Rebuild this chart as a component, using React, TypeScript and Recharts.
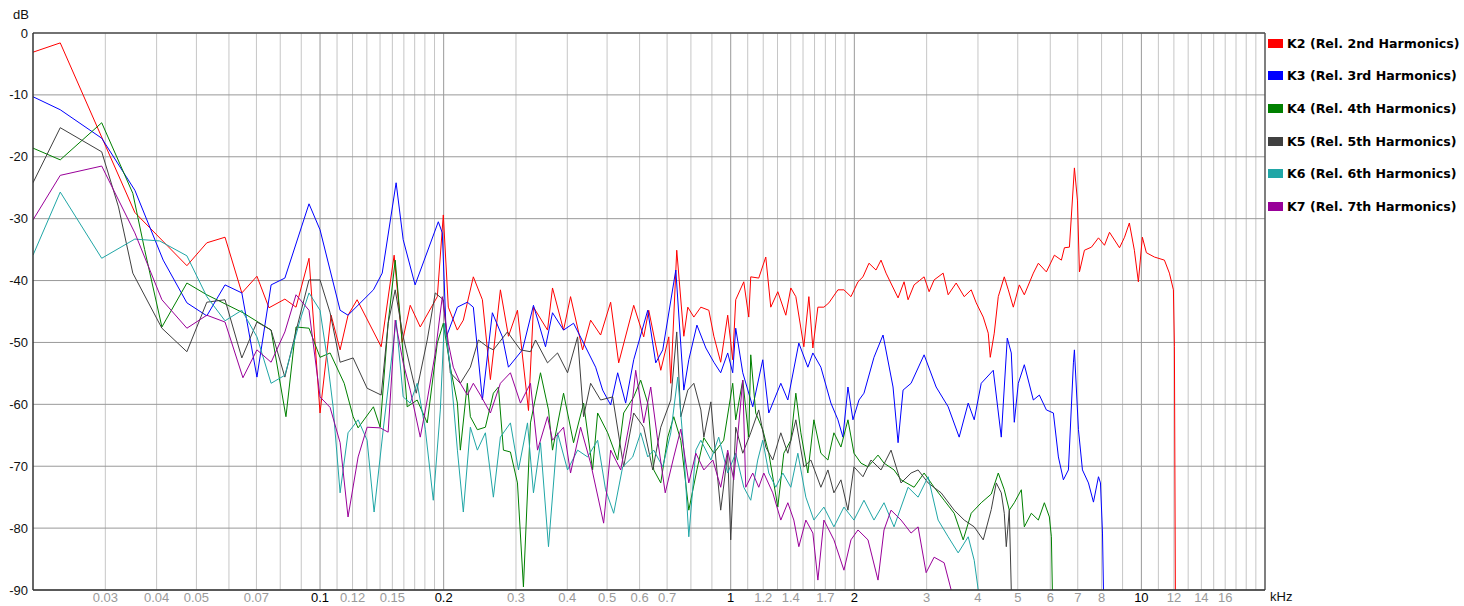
import { LineChart, Line, XAxis, YAxis, CartesianGrid, Legend, ReferenceLine } from "recharts";

// frequency in kHz, level in dB
const K2: [number, number][] = [
  [0.02, -3.1], [0.0233, -1.6], [0.0354, -29], [0.0474, -37.6], [0.053, -33.9], [0.0587, -33],
  [0.0645, -42], [0.0702, -39.3], [0.0751, -44.4], [0.0821, -43], [0.0874, -44.3], [0.094, -36.4],
  [0.1, -61.4], [0.1064, -45.6], [0.1119, -51.2], [0.117, -45.6], [0.1231, -43.1], [0.1409, -50.7],
  [0.1515, -35.9], [0.1585, -50], [0.1658, -44], [0.1754, -47.5], [0.193, -42.6], [0.1996, -29.4],
  [0.2053, -44.3], [0.2159, -48], [0.2233, -46.4], [0.2362, -39.4], [0.2485, -43.1], [0.2599, -56],
  [0.2749, -41.5], [0.2876, -49], [0.3025, -44.8], [0.3218, -61], [0.3309, -44.3], [0.358, -48],
  [0.3682, -41.2], [0.3917, -48], [0.4074, -42.6], [0.4358, -51.2], [0.4559, -46.4], [0.4822, -48.8],
  [0.5101, -43.5], [0.5336, -53.3], [0.5805, -44], [0.614, -49.1], [0.6316, -44.8], [0.6756, -54.5],
  [0.7066, -49.1], [0.7146, -56.6], [0.7389, -35.1], [0.7688, -49], [0.7862, -44.3], [0.8132, -45.9],
  [0.8458, -44.3], [0.8846, -44.8], [0.9099, -49], [0.9454, -53.2], [0.9833, -45.6], [1.0113, -52.8],
  [1.0285, -43.1], [1.076, -40.2], [1.1065, -45.9], [1.1189, -39.4], [1.1702, -39.6], [1.2172, -36.2],
  [1.2519, -44.3], [1.3022, -41.8], [1.3621, -45.6], [1.4008, -41.2], [1.4407, -42.6], [1.5069, -50.7],
  [1.5499, -42.6], [1.5851, -50.9], [1.6303, -44.3], [1.6862, -44.3], [1.7343, -43.6], [1.8243, -41.5],
  [1.8868, -41.5], [1.9625, -42.6], [2.0412, -40.2], [2.0993, -39.4], [2.1712, -37.2], [2.2583, -38.3],
  [2.3228, -36.7], [2.3891, -38.8], [2.5558, -42.8], [2.6432, -40.2], [2.7033, -43.1], [2.7959, -40.7],
  [2.9576, -39.4], [3.0418, -41.8], [3.1284, -39.9], [3.2908, -38.8], [3.3846, -42.3], [3.5403, -40.4],
  [3.703, -42.6], [3.8515, -41.5], [3.9612, -43.6], [4.1201, -45.9], [4.2375, -48.5], [4.2856, -52.4],
  [4.3827, -48.5], [4.4826, -42.6], [4.636, -39.4], [4.7418, -41.5], [4.8766, -44.3], [5.0436, -40.7],
  [5.1875, -42.3], [5.4565, -38.8], [5.6122, -37.2], [5.8703, -38.6], [6.14, -35.9], [6.3864, -36.7],
  [6.495, -34.7], [6.68, -34.6], [6.87, -21.8], [6.987, -27], [7.066, -38.6], [7.2673, -35.1],
  [7.5589, -34.6], [7.8621, -33.1], [8.1318, -34.3], [8.3636, -32.2], [8.8469, -34.7], [9.0989, -33],
  [9.3483, -30.7], [9.6145, -35.1], [9.833, -40.2], [10.056, -33], [10.285, -35.5], [10.758, -36.2],
  [11.379, -36.7], [11.701, -38.8], [11.968, -41.5], [12.035, -50.7], [12.1, -90],
];

const K3: [number, number][] = [
  [0.02, -10.3], [0.0233, -12.4], [0.0294, -17], [0.0354, -25.4], [0.0415, -36.7], [0.0474, -43.6],
  [0.053, -45.7], [0.0587, -40.7], [0.0645, -42], [0.0702, -55.6], [0.076, -40.7], [0.0821, -39.6],
  [0.094, -27.6], [0.1, -31.8], [0.1119, -44.8], [0.117, -45.6], [0.1349, -41.5], [0.1417, -38.8],
  [0.1532, -24.2], [0.1594, -33.4], [0.1704, -40.7], [0.1941, -30.5], [0.1985, -32.3], [0.203, -49.1],
  [0.216, -44.3], [0.2284, -43.5], [0.2362, -44.3], [0.2485, -59.3], [0.2628, -45.2], [0.278, -49.1],
  [0.2876, -54], [0.3111, -51.2], [0.3309, -44], [0.354, -50.7], [0.3682, -45.2], [0.3917, -48],
  [0.4143, -46.9], [0.4383, -50.1], [0.4689, -54], [0.4877, -57.7], [0.5101, -60.1], [0.5306, -54.9],
  [0.5549, -59.8], [0.5805, -52.8], [0.628, -44.8], [0.6568, -53.3], [0.6832, -51.2], [0.735, -38.3],
  [0.7688, -57.7], [0.7906, -52.8], [0.8274, -47.2], [0.8699, -50.9], [0.9099, -53.2], [0.9454, -54.9],
  [0.9833, -51.7], [1.0113, -54.9], [1.0285, -47.7], [1.07, -54.9], [1.1315, -60.4], [1.1968, -52.8],
  [1.238, -61.4], [1.3243, -56.6], [1.3774, -59.3], [1.4652, -50.1], [1.5412, -54], [1.5851, -51.7],
  [1.658, -54], [1.7539, -59.8], [1.8243, -62.5], [1.8762, -65.3], [1.9297, -57.2], [1.9847, -62.5],
  [2.0527, -59.3], [2.1112, -58.2], [2.2331, -52.4], [2.349, -48.8], [2.4847, -57.2], [2.5558, -66.2],
  [2.6283, -57.7], [2.7492, -56.6], [2.9576, -52], [3.1639, -57.2], [3.3846, -60.4], [3.6004, -65.3],
  [3.787, -59.8], [3.917, -62.5], [4.0741, -56.6], [4.3582, -54.5], [4.5587, -65.3], [4.7147, -49.3],
  [4.8222, -51.7], [4.904, -62.9], [5.0156, -56.6], [5.1875, -53.6], [5.4565, -59.3], [5.6439, -58.5],
  [5.8703, -60.9], [6.1056, -61.4], [6.2798, -68.5], [6.4585, -72.2], [6.6425, -70.6], [6.8316, -53.3],
  [6.87, -51.2], [7.0265, -64.1], [7.186, -70.6], [7.433, -72.7], [7.6441, -75.8], [7.8621, -71.7],
  [7.951, -72.7], [8.0408, -80.8], [8.0858, -90],
];

const K4: [number, number][] = [
  [0.02, -18.6], [0.0233, -20.5], [0.0294, -14.5], [0.035, -25.9], [0.0374, -35], [0.0412, -47.5],
  [0.0474, -40.4], [0.053, -42.3], [0.0649, -45.2], [0.076, -48], [0.0826, -62], [0.0874, -47.5],
  [0.094, -47.7], [0.1, -52.4], [0.1058, -51.7], [0.1145, -56.6], [0.1204, -62], [0.1238, -63.8],
  [0.1349, -60.4], [0.1401, -63.7], [0.1465, -46.9], [0.1524, -36.7], [0.1567, -45.9], [0.163, -60.4],
  [0.1724, -59.3], [0.1824, -63], [0.193, -50.1], [0.1996, -46.9], [0.2076, -54], [0.216, -59.8],
  [0.2196, -67.4], [0.2284, -56.6], [0.2323, -62], [0.2416, -64.1], [0.2527, -63.7], [0.2643, -58.2],
  [0.2719, -57.2], [0.2796, -67.4], [0.2908, -67.7], [0.3025, -72.7], [0.3128, -89.5], [0.3254, -63],
  [0.3442, -54.9], [0.36, -60.9], [0.3682, -67.4], [0.3917, -58.2], [0.4143, -66.2], [0.4383, -59.8],
  [0.461, -70.6], [0.4742, -61.4], [0.5016, -64.6], [0.5306, -69], [0.5487, -61.4], [0.5805, -58.8],
  [0.6037, -56.1], [0.628, -59.8], [0.6495, -70.6], [0.6756, -72.7], [0.7026, -65.3], [0.7267, -62],
  [0.7559, -65.8], [0.7906, -77.1], [0.8274, -70.6], [0.8602, -65.4], [0.9099, -67.9], [0.9614, -65.8],
  [1.0113, -56.6], [1.0285, -62.5], [1.07, -56.1], [1.1065, -65.3], [1.1189, -52], [1.1506, -61.4],
  [1.1968, -64.1], [1.238, -67.9], [1.3022, -76.6], [1.3468, -67.9], [1.4008, -65.8], [1.4407, -58.2],
  [1.4818, -64.6], [1.5412, -71.1], [1.5941, -62.5], [1.658, -67.9], [1.7246, -69], [1.7837, -64.6],
  [1.8553, -66.9], [1.9297, -62.5], [1.9958, -67.9], [2.0759, -69.5], [2.1591, -70.1], [2.2839, -68.2],
  [2.3623, -69.5], [2.4988, -70.6], [2.599, -72.2], [2.7959, -73.4], [2.9576, -71.1], [3.1284, -73.4],
  [3.3094, -75.5], [3.5006, -77.6], [3.6822, -81.9], [3.8515, -77.6], [4.0741, -75.9], [4.3096, -74.5],
  [4.4826, -71.1], [4.636, -73.8], [4.7684, -77.1], [4.904, -75.9], [5.1009, -73.8], [5.1875, -79.8],
  [5.3957, -77.6], [5.6122, -78.7], [5.8046, -75.9], [5.97, -78.2], [6.0374, -81.4], [6.071, -90],
];

const K5: [number, number][] = [
  [0.02, -24.2], [0.0233, -15.3], [0.0294, -19.2], [0.0323, -28.1], [0.035, -38.8], [0.0412, -47.7],
  [0.0474, -51.5], [0.053, -43.5], [0.0587, -43.1], [0.0645, -52.5], [0.0702, -46.7], [0.076, -48],
  [0.0821, -55.6], [0.0879, -47.5], [0.094, -39.9], [0.1, -39.9], [0.1058, -45.2], [0.1119, -53.2],
  [0.1204, -52.5], [0.1302, -57.4], [0.1409, -58.5], [0.1465, -46.9], [0.1524, -41.5], [0.1594, -49.1],
  [0.1715, -58.2], [0.1824, -49.6], [0.1908, -42], [0.1996, -43.1], [0.2076, -54.9], [0.2196, -56.6],
  [0.2323, -54], [0.243, -49.6], [0.2555, -50.7], [0.2643, -51.2], [0.2859, -48.3], [0.3076, -51.2],
  [0.3254, -51.5], [0.3347, -49.6], [0.358, -53.3], [0.3787, -51.7], [0.4006, -54.9], [0.4238, -49.1],
  [0.4383, -62], [0.4559, -56.6], [0.4822, -59.3], [0.5159, -58.8], [0.5487, -70.1], [0.5805, -61.4],
  [0.614, -63.7], [0.6459, -70.6], [0.6756, -63.7], [0.7146, -59.3], [0.7389, -48.3], [0.7559, -62],
  [0.7862, -57.7], [0.8132, -56.6], [0.8458, -60.9], [0.8602, -65.3], [0.8947, -59.6], [0.9206, -69],
  [0.9454, -77.1], [0.9833, -67.9], [1.0, -81.9], [1.0285, -63.7], [1.07, -67.9], [1.1189, -64.6],
  [1.1702, -60.9], [1.2172, -66.9], [1.266, -69], [1.3243, -64.6], [1.3774, -67.9], [1.4407, -62.5],
  [1.5069, -70.1], [1.5674, -69], [1.658, -73.4], [1.7246, -70.6], [1.7837, -74.3], [1.8553, -72.2],
  [1.9297, -77.1], [1.9958, -70.1], [2.0993, -71.7], [2.1958, -69], [2.3228, -70.6], [2.457, -67.4],
  [2.599, -72.7], [2.7492, -71.1], [2.8597, -70.6], [3.0247, -72.7], [3.2541, -74.3], [3.5006, -77.1],
  [3.703, -78.7], [3.917, -79.8], [4.1201, -81.9], [4.3096, -77], [4.4324, -72.7], [4.5587, -74.3],
  [4.636, -77.6], [4.6887, -83], [4.7684, -77.1], [4.8222, -90],
];

const K6: [number, number][] = [
  [0.02, -35.9], [0.0233, -25.7], [0.0294, -36.4], [0.0354, -33.3], [0.0407, -33.6], [0.0474, -36],
  [0.053, -42.6], [0.0587, -46.5], [0.0645, -44.8], [0.0702, -49.1], [0.076, -56.6], [0.0821, -55.3],
  [0.0894, -46.4], [0.094, -42], [0.1, -44.8], [0.104, -52.4], [0.1076, -60.4], [0.1119, -74.3],
  [0.117, -64.6], [0.1238, -62.5], [0.1302, -65.8], [0.1354, -77.4], [0.1425, -64.1], [0.1532, -46.4],
  [0.1594, -58.8], [0.1658, -59.8], [0.1724, -56.6], [0.1805, -64.1], [0.1887, -75.5], [0.1963, -60.9],
  [0.2007, -46.9], [0.2076, -54], [0.216, -67.4], [0.2233, -77.4], [0.2323, -63.7], [0.2416, -67.4],
  [0.2527, -64.6], [0.2643, -75], [0.2749, -65.3], [0.2908, -63], [0.3042, -70.6], [0.32, -63],
  [0.3309, -74.3], [0.3442, -66.2], [0.36, -83], [0.3787, -64.6], [0.4006, -70.6], [0.4238, -67.4],
  [0.4482, -68.5], [0.4742, -65.8], [0.4958, -73.8], [0.5188, -77.6], [0.5457, -70.1], [0.5772, -68.5],
  [0.6037, -64.6], [0.628, -68.5], [0.6495, -67.4], [0.6832, -70.1], [0.7146, -64.6], [0.7431, -55.6],
  [0.7688, -67.4], [0.7906, -81.4], [0.8224, -67.4], [0.8458, -65.8], [0.8947, -69], [0.9349, -65.3],
  [0.9833, -71.1], [1.0285, -67.9], [1.076, -73.4], [1.1189, -75.5], [1.1636, -69], [1.1968, -65.8],
  [1.238, -71.1], [1.2876, -73.4], [1.3393, -71.1], [1.4008, -73.4], [1.4571, -67.9], [1.524, -75],
  [1.5941, -78.7], [1.6862, -76.6], [1.7837, -79.8], [1.8868, -76.6], [1.9958, -78.7], [2.1112, -75.5],
  [2.2331, -78.7], [2.3623, -75.9], [2.4988, -79.8], [2.7033, -73.4], [2.8597, -75], [3.0247, -71.7],
  [3.1994, -78.7], [3.3846, -81.4], [3.5803, -84], [3.787, -81.4], [3.917, -85.2], [4.0064, -90],
];

const K7: [number, number][] = [
  [0.02, -30.2], [0.0233, -23], [0.0294, -21.5], [0.0354, -32.3], [0.0412, -43.1], [0.0474, -47.7],
  [0.053, -45.6], [0.0587, -46.7], [0.0649, -55.7], [0.0702, -51.2], [0.076, -53.2], [0.0821, -48.3],
  [0.0874, -42.3], [0.094, -44.8], [0.1, -58.8], [0.1058, -60.5], [0.1119, -66.2], [0.117, -78.2],
  [0.1238, -68.5], [0.1302, -63.7], [0.1401, -63.8], [0.1465, -64.5], [0.1524, -46.4], [0.1594, -53.3],
  [0.1658, -57.7], [0.1754, -65.3], [0.1824, -59.3], [0.1908, -51.7], [0.1985, -42.6], [0.2053, -50.1],
  [0.2111, -54], [0.2196, -56.6], [0.2284, -58.5], [0.2362, -56.6], [0.2457, -58.5], [0.2599, -61.4],
  [0.2749, -56.6], [0.2908, -54.9], [0.3076, -59.8], [0.3254, -56.6], [0.3385, -67.4], [0.358, -62],
  [0.3682, -65.8], [0.3917, -63.7], [0.4074, -71.1], [0.431, -63.7], [0.4559, -69.5], [0.4904, -79.2],
  [0.5101, -67.4], [0.5396, -70.6], [0.5708, -62], [0.587, -54.5], [0.614, -63], [0.6386, -57.2],
  [0.6624, -65.3], [0.6927, -74.3], [0.7267, -68.5], [0.7559, -64], [0.7906, -72.7], [0.8224, -67.9],
  [0.8602, -70.6], [0.9048, -69], [0.9454, -73.4], [0.9833, -67.4], [1.017, -72.2], [1.07, -56.1],
  [1.088, -73.4], [1.1315, -71.1], [1.1702, -73.4], [1.2038, -71.1], [1.266, -74.3], [1.3243, -78.7],
  [1.3774, -75.9], [1.4245, -78.7], [1.4652, -83], [1.524, -78.7], [1.5851, -80.8], [1.6303, -88.4],
  [1.6862, -78.7], [1.7837, -81.9], [1.8868, -86.8], [1.9625, -81.9], [2.0412, -80.3], [2.1591, -81.9],
  [2.2839, -88.4], [2.3623, -80.3], [2.457, -77.1], [2.599, -78.7], [2.7492, -80.8], [2.8597, -79.8],
  [2.9914, -87.2], [3.1284, -84.7], [3.3094, -85.6], [3.4421, -90],
];

const SERIES = [
  { key: "K2", name: "K2 (Rel. 2nd Harmonics)", color: "#ff0000", data: K2 },
  { key: "K3", name: "K3 (Rel. 3rd Harmonics)", color: "#0000ff", data: K3 },
  { key: "K4", name: "K4 (Rel. 4th Harmonics)", color: "#008000", data: K4 },
  { key: "K5", name: "K5 (Rel. 5th Harmonics)", color: "#404040", data: K5 },
  { key: "K6", name: "K6 (Rel. 6th Harmonics)", color: "#20a6a6", data: K6 },
  { key: "K7", name: "K7 (Rel. 7th Harmonics)", color: "#990099", data: K7 },
];

const X_TICKS = [0.03, 0.04, 0.05, 0.07, 0.1, 0.12, 0.15, 0.2, 0.3, 0.4, 0.5, 0.6, 0.7, 1, 1.2, 1.4, 1.7, 2, 3, 4, 5, 6, 7, 8, 10, 12, 14, 16];
const X_MAJOR = [0.1, 0.2, 1, 2, 10];
const X_MINOR = [
  0.03, 0.04, 0.05, 0.06, 0.07, 0.08, 0.09,
  0.11, 0.12, 0.13, 0.14, 0.15, 0.16, 0.17, 0.18, 0.19,
  0.3, 0.4, 0.5, 0.6, 0.7, 0.8, 0.9,
  1.1, 1.2, 1.3, 1.4, 1.5, 1.6, 1.7, 1.8, 1.9,
  3, 4, 5, 6, 7, 8, 9,
  11, 12, 13, 14, 15, 16, 17, 18, 19,
];
const Y_TICKS = [0, -10, -20, -30, -40, -50, -60, -70, -80, -90];

const FONT = "'Liberation Sans', Arial, sans-serif";

const toPoints = (pairs: [number, number][]) => pairs.map(([f, db]) => ({ f, db }));

function XTick({ x, payload }: any) {
  const major = X_MAJOR.includes(payload.value);
  return (
    <text x={x} y={602} textAnchor="middle" fontSize={13} fontFamily={FONT} fill={major ? "#000" : "#999"}>
      {String(payload.value)}
    </text>
  );
}

function YTick({ y, payload }: any) {
  return (
    <text x={28} y={y} textAnchor="end" dominantBaseline="central" fontSize={13} fontFamily={FONT} fill="#111">
      {String(payload.value)}
    </text>
  );
}

function LegendBox() {
  return (
    <div style={{ fontFamily: "'DejaVu Sans', Verdana, sans-serif" }}>
      {SERIES.map((s) => (
        <div key={s.key} style={{ display: "flex", alignItems: "center", height: 32.6 }}>
          <span style={{ width: 15, height: 9, background: s.color, marginRight: 4, flex: "none" }} />
          <span style={{ fontSize: 12.6, fontWeight: "bold", color: "#000", whiteSpace: "nowrap" }}>{s.name}</span>
        </div>
      ))}
    </div>
  );
}

export default function App() {
  return (
    <div style={{ position: "relative", width: 1464, height: 606, background: "#fff" }}>
      <style>{"body{margin:0}"}</style>
      <LineChart width={1464} height={606} margin={{ top: 33, right: 199, bottom: 0, left: 0 }}>
        <CartesianGrid horizontal={false} verticalValues={X_MINOR} stroke="#c6c6c6" />
        <CartesianGrid horizontalValues={Y_TICKS} verticalValues={X_MAJOR} stroke="#999999" />
        <XAxis
          dataKey="f"
          type="number"
          scale="log"
          domain={[0.02, 20]}
          allowDataOverflow
          ticks={X_TICKS}
          tick={<XTick />}
          tickLine={false}
          height={16}
          interval={0}
          axisLine={{ stroke: "#333", strokeWidth: 1.5 }}
        />
        <YAxis
          type="number"
          domain={[-90, 0]}
          allowDataOverflow
          ticks={Y_TICKS}
          tick={<YTick />}
          tickLine={false}
          width={33}
          interval={0}
          axisLine={{ stroke: "#333", strokeWidth: 1.5 }}
        />
        <ReferenceLine y={0} stroke="#555" strokeWidth={1.5} />
        <ReferenceLine x={20} stroke="#555" strokeWidth={1.5} />
        {SERIES.map((s) => (
          <Line
            key={s.key}
            data={toPoints(s.data)}
            dataKey="db"
            name={s.name}
            type="linear"
            stroke={s.color}
            strokeWidth={1}
            dot={false}
            activeDot={false}
            isAnimationActive={false}
          />
        ))}
        <Legend
          layout="horizontal"
          align="center"
          verticalAlign="middle"
          content={<LegendBox />}
          wrapperStyle={{ left: 1268, top: 27, width: 196 }}
        />
      </LineChart>
      <div style={{ position: "absolute", left: 13, top: 7, fontSize: 13, fontFamily: FONT, color: "#111" }}>dB</div>
      <div style={{ position: "absolute", left: 1270, top: 589, fontSize: 13, fontFamily: FONT, color: "#111" }}>kHz</div>
    </div>
  );
}
